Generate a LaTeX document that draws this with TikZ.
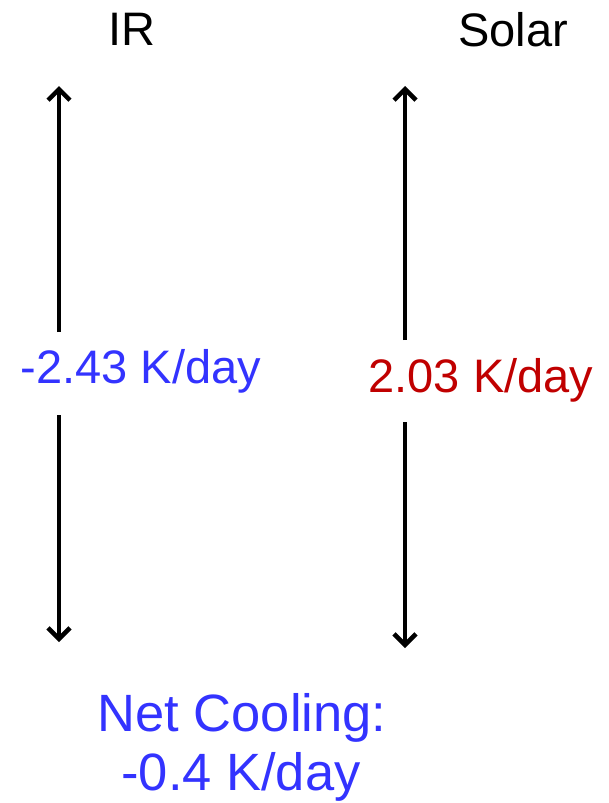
\documentclass[tikz,border=0pt]{standalone}
\usepackage{fontspec}
\setmainfont{Liberation Sans}
\usetikzlibrary{arrows.meta}
\definecolor{coolblue}{RGB}{51,51,255}
\definecolor{warmred}{RGB}{192,0,0}
\tikzset{
  lbl/.style={anchor=base, inner sep=0pt, font=\fontsize{47}{56}\selectfont},
  netlbl/.style={anchor=base, inner sep=0pt, font=\fontsize{52.5}{62}\selectfont, text=coolblue},
  flux/.style={line width=3.8pt, -{Straight Barb[length=11pt,width=22pt,line width=4.5pt]}}
}
\begin{document}
\begin{tikzpicture}[x=1pt,y=-1pt]
  \useasboundingbox (0,0) rectangle (609,803);
  % column headings
  \node[lbl] (irhead) at (132,45) {IR};
  \node[lbl] (solhead) at (513,46) {Solar};
  % heating rates
  \node[lbl, text=coolblue] (irrate) at (141,383) {-2.43 K/day};
  \node[lbl, text=warmred] (solrate) at (481,392) {2.03 K/day};
  % net result
  \node[netlbl] (net1) at (242,731) {Net Cooling:};
  \node[netlbl] (net2) at (241,790) {-0.4 K/day};
  % arrow end points
  \coordinate (irup0) at (59,332);
  \coordinate (irup1) at (59,86);
  \coordinate (irdn0) at (59,415);
  \coordinate (irdn1) at (59,642);
  \coordinate (solup0) at (405,340);
  \coordinate (solup1) at (405,86);
  \coordinate (soldn0) at (405,422);
  \coordinate (soldn1) at (405,648);
  \draw[flux] (irup0) -- (irup1);
  \draw[flux] (irdn0) -- (irdn1);
  \draw[flux] (solup0) -- (solup1);
  \draw[flux] (soldn0) -- (soldn1);
\end{tikzpicture}
\end{document}
